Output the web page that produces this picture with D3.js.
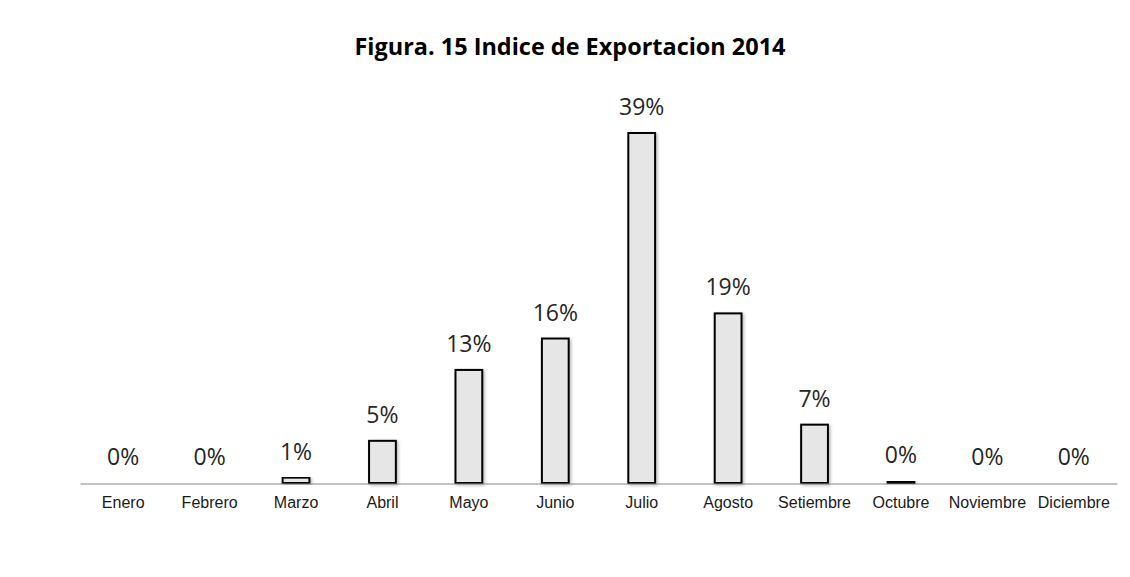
<!DOCTYPE html>
<html>
<head>
<meta charset="utf-8">
<script src="https://cdn.jsdelivr.net/npm/d3@7"></script>
<style>
  body { margin: 0; background: #fff; }
  svg { display: block; }
</style>
</head>
<body>
<svg id="chart" width="1130" height="577"></svg>
<script>
"use strict";

// data
const months = ['Enero', 'Febrero', 'Marzo', 'Abril', 'Mayo', 'Junio', 'Julio',
                'Agosto', 'Setiembre', 'Octubre', 'Noviembre', 'Diciembre'];
const exportPct = [0, 0, 0.6, 4.7, 12.6, 16.1, 39.0, 18.9, 6.5, 0.2, 0, 0];
const chartTitle = "Figura. 15 Indice de Exportacion 2014";

const plotLeft = 80;
const plotRight = 1117;
const baseY = 483;
const topY = 133;

window.addEventListener("load", init);

function init() {
    const svg = d3.select("#chart");

    const defs = svg.append("defs");
    defs.append("filter")
        .attr("id", "shadow")
        .attr("x", "-30%").attr("y", "-10%")
        .attr("width", "160%").attr("height", "130%")
        .append("feDropShadow")
            .attr("dx", 1.5).attr("dy", 1.5)
            .attr("stdDeviation", 1.5)
            .attr("flood-color", "#000")
            .attr("flood-opacity", 0.28);

    let xScale = d3.scaleBand()
        .domain(months)
        .range([plotLeft, plotRight])
        .paddingInner(0.69)
        .paddingOuter(0.345);
    let yScale = d3.scaleLinear()
        .domain([0, 39])
        .range([baseY, topY]);

    // title
    svg.append("text")
        .attr("x", 570)
        .attr("y", 55)
        .attr("text-anchor", "middle")
        .attr("font-family", "'Open Sans', 'Noto Sans', sans-serif")
        .attr("font-weight", "bold")
        .attr("font-size", 23)
        .attr("fill", "#000")
        .attr("textLength", 431)
        .attr("lengthAdjust", "spacingAndGlyphs")
        .text(chartTitle);

    let data = months.map((m, i) => ({ month: m, value: exportPct[i] }));

    // bars
    svg.append("g")
        .selectAll("rect")
        .data(data)
        .join("rect")
            .attr("x", d => xScale(d.month))
            .attr("y", d => yScale(d.value))
            .attr("width", xScale.bandwidth())
            .attr("height", d => baseY - yScale(d.value))
            .attr("fill", "#e6e6e6")
            .attr("stroke", "#000")
            .attr("stroke-width", 2)
            .attr("filter", d => d.value > 0 ? "url(#shadow)" : null);

    // x axis
    let xAxis = d3.axisBottom(xScale).tickSize(0).tickPadding(13);
    let axisG = svg.append("g")
        .attr("transform", `translate(0,${baseY + 0.5})`)
        .call(xAxis);
    axisG.select(".domain")
        .attr("stroke", "#868686")
        .attr("stroke-width", 1);
    axisG.selectAll(".tick text")
        .attr("font-family", "'Liberation Sans', Arial, sans-serif")
        .attr("font-size", 16)
        .attr("fill", "#1a1a1a");

    // data labels
    let fmt = d3.format(".0f");
    svg.append("g")
        .selectAll("text")
        .data(data)
        .join("text")
            .attr("x", d => xScale(d.month) + xScale.bandwidth() / 2)
            .attr("y", d => yScale(d.value) - 18)
            .attr("text-anchor", "middle")
            .attr("font-family", "'Open Sans', 'Noto Sans', sans-serif")
            .attr("font-size", 23)
            .attr("fill", "#262626")
            .text(d => fmt(d.value) + "%");
}
</script>
</body>
</html>
